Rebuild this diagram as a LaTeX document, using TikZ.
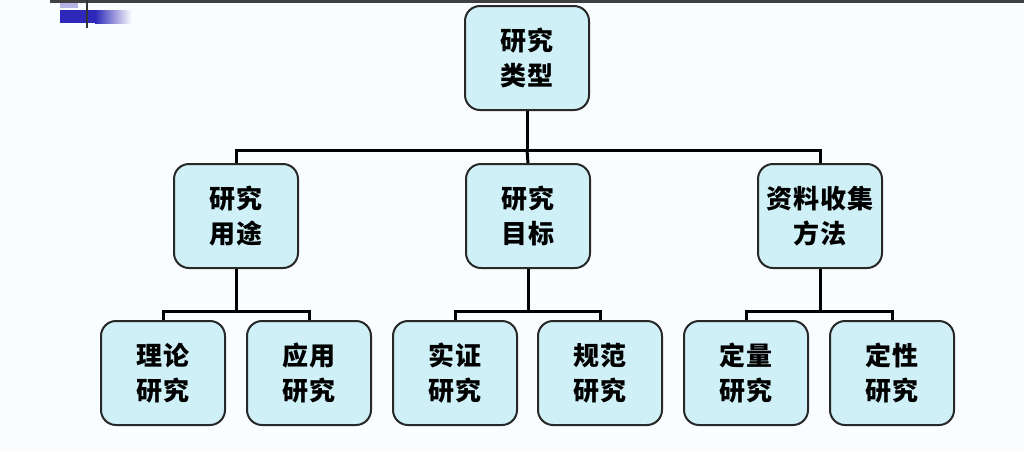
\documentclass[tikz,border=0pt]{standalone}
\usepackage{fontspec}
\newfontfamily\cjk{Noto Sans CJK SC}[LetterSpace=5]
\definecolor{boxfill}{RGB}{206,240,246}
\definecolor{boxline}{RGB}{40,40,40}
\definecolor{slideblue}{RGB}{45,40,185}

\begin{document}
\begin{tikzpicture}[x=1pt,y=-1pt,
	catbox/.style={draw=boxline,fill=boxfill,line width=2pt,rounded corners=15pt,
		minimum width=124pt,minimum height=104pt,align=center,inner sep=0pt,
		font=\cjk\bfseries\fontsize{26}{35}\selectfont},
	bus/.style={line width=3pt,black}]
	\useasboundingbox (0,0) rectangle (1024,451);
	\fill[white!98!cyan] (0,0) rectangle (1024,451);

	% slide remnant, top left
	\fill[black!75] (50,0) rectangle (1024,2.5);
	\fill[slideblue!35] (60,3) rectangle (78,8);
	\shade[left color=slideblue,right color=white] (95,10) rectangle (132,23);
	\fill[slideblue] (60,10) rectangle (95,23);
	\draw[line width=1.5pt,black!80] (87,0) -- (87,28);

	% top level
	\node[catbox] (type) at (527,58) {研究\\类型};

	% second level
	\node[catbox] (use) at (236,216) {研究\\用途};
	\node[catbox] (goal) at (528,216) {研究\\目标};
	\node[catbox] (data) at (820,216) {资料收集\\方法};

	% third level
	\node[catbox] (theory) at (163,373) {理论\\研究};
	\node[catbox] (applied) at (309,373) {应用\\研究};
	\node[catbox] (positive) at (455,373) {实证\\研究};
	\node[catbox] (normative) at (600,373) {规范\\研究};
	\node[catbox] (quant) at (746,373) {定量\\研究};
	\node[catbox] (qual) at (892,373) {定性\\研究};

	% connectors
	\draw[bus] (type.south) -- ++(0,39) coordinate (b1);
	\draw[bus] (use.north) |- (b1) -| (data.north);
	\draw[bus] (b1) -- (goal.north);
	\foreach \p/\l/\r in {use/theory/applied,goal/positive/normative,data/quant/qual}{
		\draw[bus] (\p.south) -- ++(0,42) coordinate (b-\p);
		\draw[bus] (\l.north) |- (b-\p) -| (\r.north);
	}
\end{tikzpicture}
\end{document}
